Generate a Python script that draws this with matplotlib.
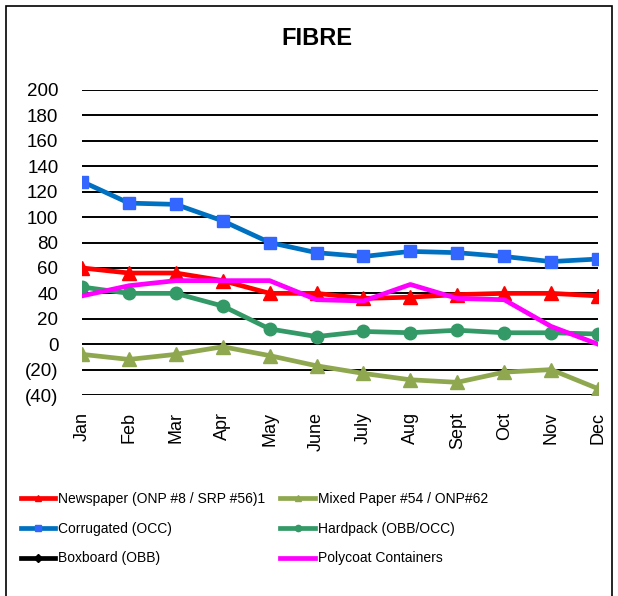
import matplotlib
matplotlib.use("Agg")
import matplotlib.pyplot as plt
from matplotlib.patches import Rectangle

plt.rcParams['font.family'] = ['Liberation Sans', 'DejaVu Sans']

months = ['Jan', 'Feb', 'Mar', 'Apr', 'May', 'June', 'July', 'Aug', 'Sept', 'Oct', 'Nov', 'Dec']
newspaper = [60, 56, 56, 50, 40, 40, 36, 37, 39, 40, 40, 38]
mixed_paper = [-8, -12, -8, -2, -9, -17, -23, -28, -30, -22, -20, -35]
corrugated = [128, 111, 110, 97, 80, 72, 69, 73, 72, 69, 65, 67]
hardpack = [45, 40, 40, 30, 12, 6, 10, 9, 11, 9, 9, 8]
boxboard = []
polycoat = [38, 46, 50, 50, 50, 35, 34, 47, 36, 35, 14, 0]

yticks = list(range(-40, 201, 20))
ylabels = [f'({-v})' if v < 0 else str(v) for v in yticks]

fig = plt.figure(figsize=(6.18, 5.96), dpi=100)
ax = fig.add_axes([0.1327, 0.3372, 0.8349, 0.5118])

x = list(range(len(months)))
lw = 3.4
h_news, = ax.plot(x, newspaper, color='#FF0000', lw=lw, marker='^', ms=10,
                  label='Newspaper (ONP #8 / SRP #56)1')
h_mixed, = ax.plot(x, mixed_paper, color='#8FA84F', lw=lw, marker='^', ms=10,
                   label='Mixed Paper #54 / ONP#62')
h_corr, = ax.plot(x, corrugated, color='#0070C0', lw=lw, marker='s', ms=9,
                  mfc='#3366FF', mec='#3366FF', label='Corrugated (OCC)')
h_hard, = ax.plot(x, hardpack, color='#339966', lw=lw, marker='o', ms=9,
                  label='Hardpack (OBB/OCC)')
h_box, = ax.plot(boxboard, boxboard, color='black', lw=lw, marker='D', ms=8,
                 label='Boxboard (OBB)')
h_poly, = ax.plot(x, polycoat, color='#FF00FF', lw=lw, label='Polycoat Containers')

ax.set_xlim(0, 11)
ax.set_ylim(-40, 200)
ax.set_yticks(yticks)
ax.set_yticklabels(ylabels, fontsize=13.5)
ax.set_xticks(x)
ax.set_xticklabels(months, rotation=90, fontsize=13)
ax.tick_params(axis='y', length=0, pad=17)
ax.tick_params(axis='x', length=0, pad=12)
for v in yticks:
    ax.axhline(v, color='black', lw=1.4, zorder=0)
for s in ax.spines.values():
    s.set_visible(False)

fig.text(0.512, 0.935, 'FIBRE', ha='center', va='center', fontsize=17, fontweight='bold')

# legend fills column-first, so order handles to read row by row
handles = [h_news, h_corr, h_box, h_mixed, h_hard, h_poly]
fig.legend(handles=handles, loc='upper left', bbox_to_anchor=(0.013, 0.195), ncol=2,
           frameon=False, fontsize=10, handlelength=2.5, handletextpad=0.2,
           columnspacing=1.1, labelspacing=1.12, markerscale=0.5)

fig.patches.append(Rectangle((0.01, -0.01), 0.98, 1.0, transform=fig.transFigure,
                             fill=False, edgecolor='black', lw=1.2))

fig.savefig('out.png', dpi=100, facecolor='white')
